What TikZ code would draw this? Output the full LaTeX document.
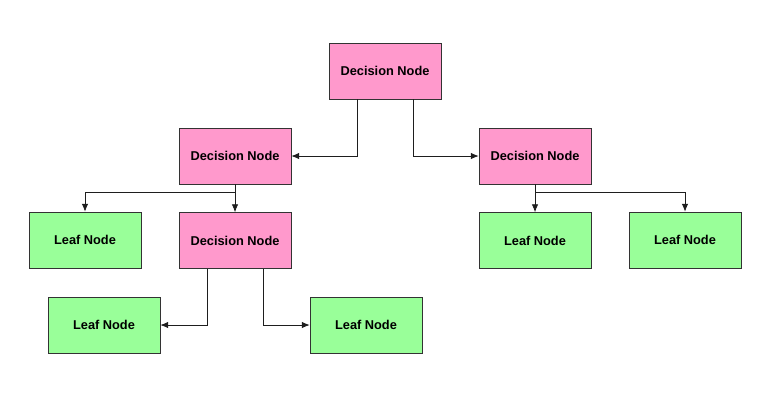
\documentclass[tikz,border=0pt]{standalone}
\usepackage{fontspec}
\setmainfont{Liberation Sans}
\usetikzlibrary{positioning,arrows.meta}
\definecolor{DecisionPink}{RGB}{255,153,204}
\definecolor{LeafGreen}{RGB}{153,255,153}
\definecolor{EdgeGray}{RGB}{30,30,30}
\tikzset{
  flow/.style={-{Latex[length=2.1mm,width=1.7mm]},semithick,draw=EdgeGray},
  decision/.style={draw=black!80,fill=DecisionPink,minimum width=84pt,
    minimum height=42pt,inner sep=0pt,align=center,font=\fontsize{9.6}{11}\selectfont\bfseries},
  leaf/.style={draw=black!80,fill=LeafGreen,minimum width=84pt,
    minimum height=42pt,inner sep=0pt,align=center,font=\fontsize{9.6}{11}\selectfont\bfseries}
}
\begin{document}
\begin{tikzpicture}[x=0.75pt,y=-0.75pt]
  \useasboundingbox (0,0) rectangle (774,412);
  % decision nodes
  \node[decision] (root) at (385,71) {Decision Node};
  \node[decision] (decL) at (235,156) {Decision Node};
  \node[decision] (decR) at (535,156) {Decision Node};
  \node[decision,below=21pt of decL] (decM) {Decision Node};
  % leaves
  \node[leaf] (leafA) at (85,240) {Leaf Node};
  \node[leaf,below=21pt of decR] (leafB) {Leaf Node};
  \node[leaf] (leafC) at (685,240) {Leaf Node};
  \node[leaf] (leafD) at (104,325) {Leaf Node};
  \node[leaf] (leafE) at (366,325) {Leaf Node};
  % connectors
  \draw[flow] ([xshift=-21pt]root.south) |- (decL.east);
  \draw[flow] ([xshift=21pt]root.south) |- (decR.west);
  \draw[flow] (decL.south) -- ++(0,8) -| (leafA.north);
  \draw[flow] (decL.south) -- (decM.north);
  \draw[flow] (decR.south) -- (leafB.north);
  \draw[flow] (decR.south) -- ++(0,8) -| (leafC.north);
  \draw[flow] ([xshift=-21pt]decM.south) |- (leafD.east);
  \draw[flow] ([xshift=21pt]decM.south) |- (leafE.west);
\end{tikzpicture}
\end{document}
